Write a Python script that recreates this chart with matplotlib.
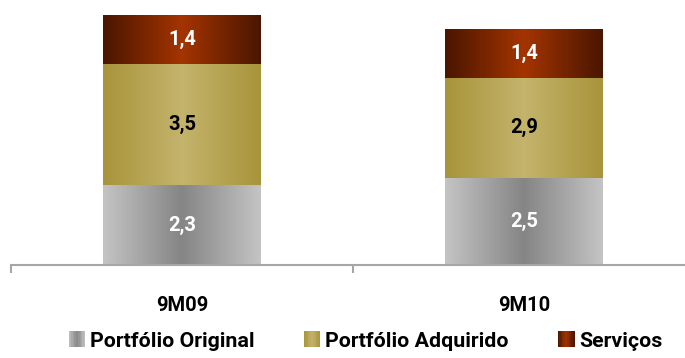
import matplotlib
matplotlib.use("Agg")
import matplotlib.pyplot as plt
import numpy as np
from matplotlib.colors import LinearSegmentedColormap
from matplotlib.patches import Rectangle, Patch
from matplotlib.legend_handler import HandlerBase

periods = ["9M09", "9M10"]
series = ["Portfólio Original", "Portfólio Adquirido", "Serviços"]
original = [2.3, 2.5]
adquirido = [3.5, 2.9]
servicos = [1.4, 1.4]

# edge -> centre -> edge colours of each horizontal gradient
gray_cm = LinearSegmentedColormap.from_list("g", ["#c4c4c4", "#858585", "#c4c4c4"])
gold_cm = LinearSegmentedColormap.from_list("o", ["#a8943a", "#c4b46c", "#a8943a"])
red_cm = LinearSegmentedColormap.from_list("r", ["#4a1600", "#a43400", "#4a1600"])
cmaps = [gray_cm, gold_cm, red_cm]
label_colors = ["white", "black", "white"]

plt.rcParams["font.family"] = ["Roboto", "DejaVu Sans"]
plt.rcParams["font.weight"] = "bold"
fs = 14.5

fig = plt.figure(figsize=(6.85, 3.58), dpi=100)
px = 34.7 / 358  # one unit in figure fraction
ax = fig.add_axes([11 / 685, 93 / 358, 684 / 685, 7.5 * px])

grad = np.linspace(0, 1, 256).reshape(1, -1)
width = 0.46
bottoms = np.zeros(len(periods))
for vals, cm, tc in zip([original, adquirido, servicos], cmaps, label_colors):
    for i, v in enumerate(vals):
        b = bottoms[i]
        ax.imshow(grad, cmap=cm, aspect="auto", interpolation="bilinear",
                  extent=[i - width / 2, i + width / 2, b, b + v], zorder=2)
        ax.text(i, b + v / 2, f"{v:.1f}".replace(".", ","), ha="center", va="center",
                color=tc, fontsize=fs, fontweight="bold", zorder=3)
    bottoms += np.array(vals)

ax.set_xlim(-0.5, 1.5)
ax.set_ylim(0, 7.5)
for s in ["top", "right", "left"]:
    ax.spines[s].set_visible(False)
ax.spines["bottom"].set_color("#a6a6a6")
ax.spines["bottom"].set_linewidth(1.5)
ax.set_yticks([])
ax.set_xticks([-0.5, 0.5, 1.5])
ax.set_xticklabels([])
ax.tick_params(axis="x", length=6, width=1.5, color="#a6a6a6")
ax.set_xticks(range(len(periods)), minor=True)
ax.set_xticklabels(periods, minor=True, fontsize=fs, fontweight="bold")
ax.tick_params(axis="x", which="minor", length=0, pad=22)


class GradientHandler(HandlerBase):
    def __init__(self, cmap):
        super().__init__()
        self.cmap = cmap

    def create_artists(self, legend, orig_handle, xdescent, ydescent, width, height, fontsize, trans):
        n = 12
        arts = []
        for k in range(n):
            r = Rectangle((-xdescent + width * k / n, -ydescent), width / n + 0.3, height,
                          facecolor=self.cmap((k + 0.5) / n), edgecolor="none", transform=trans)
            arts.append(r)
        return arts


handles = [Patch(label=s) for s in series]
fig.legend(handles=handles, labels=series, loc="center", bbox_to_anchor=(0.534, 1 - 341 / 358),
           ncol=3, frameon=False, fontsize=15.4, handlelength=0.75, handleheight=0.75,
           handletextpad=0.25, columnspacing=2.3,
           handler_map={h: GradientHandler(cm) for h, cm in zip(handles, cmaps)})

fig.savefig("out.png", dpi=100)
